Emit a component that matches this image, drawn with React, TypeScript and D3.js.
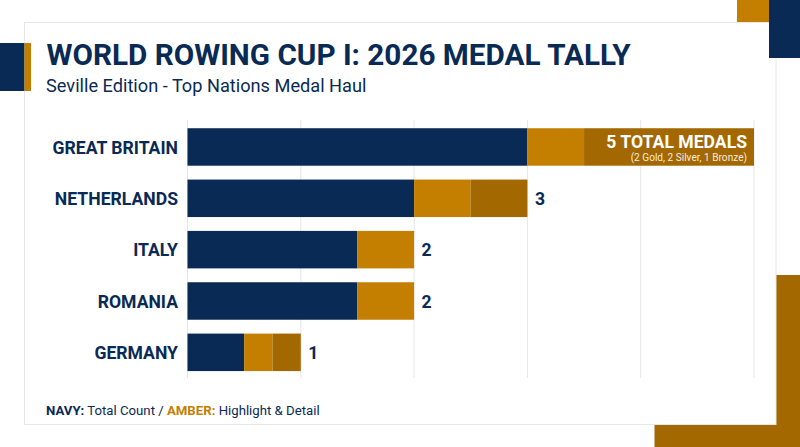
import React from "react";
import * as d3 from "d3";

const countries = ["GREAT BRITAIN", "NETHERLANDS", "ITALY", "ROMANIA", "GERMANY"];
const navyValues = [3, 2, 1.5, 1.5, 0.5];
const amberValues = [0.5, 0.5, 0.5, 0.5, 0.25];
const darkValues = [1.5, 0.5, 0, 0, 0.25];
const totals = [5, 3, 2, 2, 1];
const ticks = [0, 1, 2, 3, 4, 5];

const NAVY = "#092a54";
const AMBER = "#c47f00";
const DARK = "#a46800";
const FONT = "Roboto, sans-serif";

export default function App() {
  const x = d3.scaleLinear().domain([0, 5]).range([187.5, 754]);
  const y = d3.scaleBand().domain(countries).range([121.3, 378]).paddingInner(0.27).paddingOuter(0.135);
  const stack = d3.stack<number>().keys(["navy", "amber", "dark"]).value((i, k) =>
    k === "navy" ? navyValues[i] : k === "amber" ? amberValues[i] : darkValues[i]
  )(countries.map((_, i) => i));
  const colors = [NAVY, AMBER, DARK];

  return (
    <svg width={800} height={447} viewBox="0 0 800 447"
      style={{ position: "absolute", left: 0, top: 0, fontFamily: FONT }}>
      <rect width={800} height={447} fill="#ffffff" />
      <rect x={654.5} y={275} width={145.5} height={172} fill={DARK} />
      <rect x={737} y={0} width={32} height={48} fill={AMBER} />
      <rect x={24.5} y={22.5} width={751.5} height={402} fill="#ffffff" stroke="#e6e6e6" strokeWidth={1} />
      <rect x={769} y={0} width={31} height={58} fill={NAVY} />
      <rect x={0} y={43} width={24.5} height={48} fill={NAVY} />
      <rect x={24.5} y={43} width={6.5} height={48} fill={AMBER} />

      <text x={46.5} y={65} fontSize={29.7} fontWeight={700} fill={NAVY}>WORLD ROWING CUP I: 2026 MEDAL TALLY</text>
      <text x={46} y={91.5} fontSize={18.2} fontWeight={400} fill={NAVY}>Seville Edition - Top Nations Medal Haul</text>

      {ticks.map((t) => (
        <line key={t} x1={x(t)} x2={x(t)} y1={120} y2={378} stroke="#e6e6e6" strokeWidth={1} />
      ))}

      {stack.map((layer, li) =>
        layer.map((d, i) =>
          d[1] > d[0] ? (
            <rect key={`${li}-${i}`} x={x(d[0])} y={y(countries[i])} width={x(d[1]) - x(d[0])}
              height={y.bandwidth()} fill={colors[li]} />
          ) : null
        )
      )}

      {countries.map((c, i) => (
        <g key={c}>
          <text x={178} y={y(c)! + y.bandwidth() / 2 + 6.6} textAnchor="end" fontSize={17.6} fontWeight={700} fill={NAVY}>{c}</text>
          {i > 0 && (
            <text x={x(navyValues[i] + amberValues[i] + darkValues[i]) + 7.5} y={y(c)! + y.bandwidth() / 2 + 6.6}
              fontSize={17.6} fontWeight={700} fill={NAVY}>{totals[i]}</text>
          )}
        </g>
      ))}

      <text x={747} y={148} textAnchor="end" fontSize={17.6} fontWeight={700} fill="#ffffff">{totals[0]} TOTAL MEDALS</text>
      <text x={747} y={161} textAnchor="end" fontSize={10.1} fill="#ffffff" fillOpacity={0.9}>(2 Gold, 2 Silver, 1 Bronze)</text>

      <text x={46} y={415} fontSize={13.2} fill={NAVY}>
        <tspan fontWeight={700}>NAVY:</tspan>
        <tspan> Total Count / </tspan>
        <tspan fontWeight={700} fill={AMBER}>AMBER:</tspan>
        <tspan> Highlight &amp; Detail</tspan>
      </text>
    </svg>
  );
}
